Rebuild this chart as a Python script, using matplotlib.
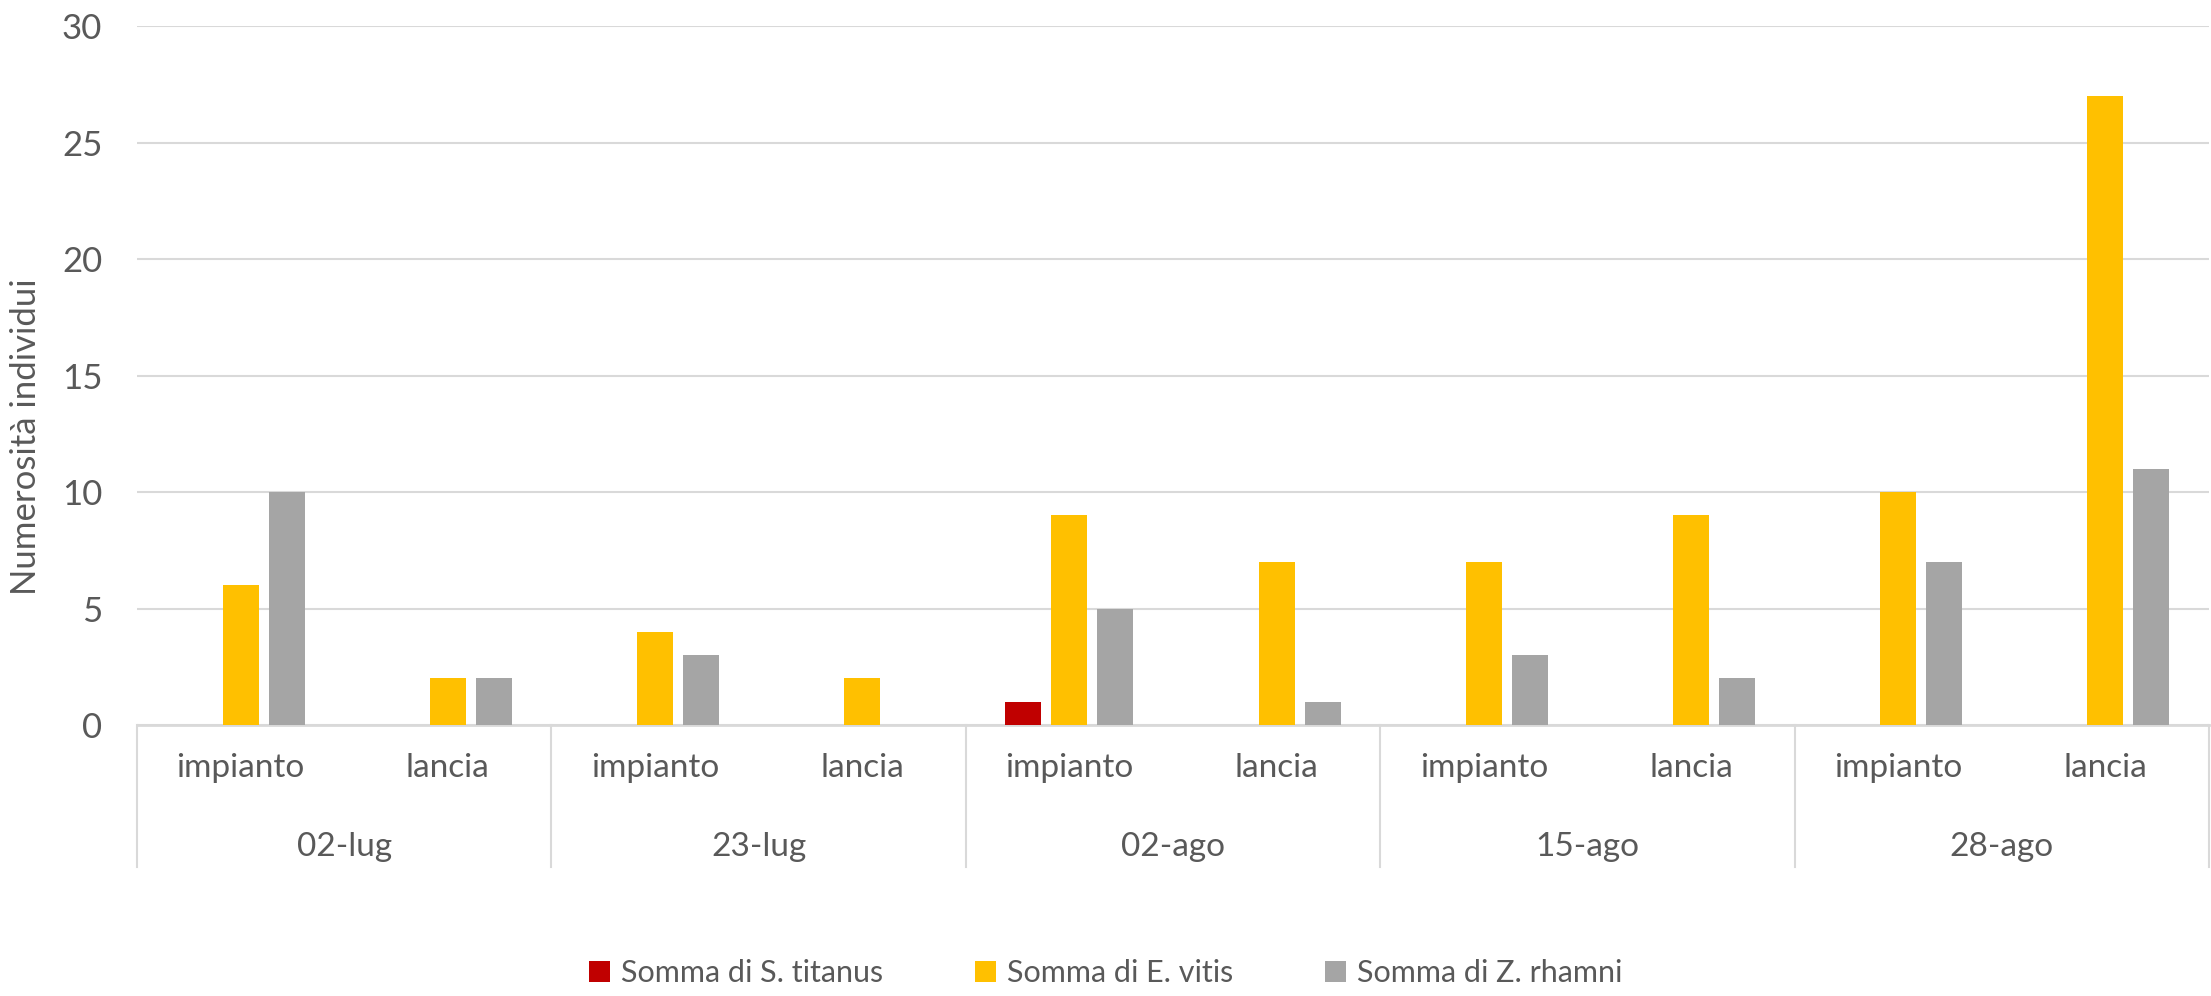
import numpy as np
import matplotlib
matplotlib.use("Agg")
import matplotlib.pyplot as plt
import matplotlib.transforms as mtransforms

plt.rcParams["font.family"] = ["Lato", "DejaVu Sans"]

# data
dates = ["02-lug", "23-lug", "02-ago", "15-ago", "28-ago"]
methods = ["impianto", "lancia"]
series_names = [
    "Somma di S. titanus",
    "Somma di E. vitis",
    "Somma di Z. rhamni",
]
s_titanus = [0, 0, 0, 0, 1, 0, 0, 0, 0, 0]
e_vitis = [6, 2, 4, 2, 9, 7, 7, 9, 10, 27]
z_rhamni = [10, 2, 3, 0, 5, 1, 3, 2, 7, 11]
colors = ["#C00000", "#FFC000", "#A5A5A5"]

text_color = "#595959"
grid_color = "#D9D9D9"

W, H = 2211, 996
fig = plt.figure(figsize=(W / 100, H / 100), dpi=100)

left, right = 137 / W, 2209 / W
bottom, top = 1 - 725 / H, 1 - 26 / H
ax = fig.add_axes([left, bottom, right - left, top - bottom])

n_cat = len(dates) * len(methods)
x = np.arange(n_cat)
bar_w = 0.173
step = 0.222

for i, (vals, name, c) in enumerate(
    zip([s_titanus, e_vitis, z_rhamni], series_names, colors)
):
    ax.bar(
        x + (i - 1) * step,
        vals,
        width=bar_w,
        color=c,
        label=name,
        zorder=3
    )

ax.set_xlim(-0.5, n_cat - 0.5)
ax.set_ylim(0, 30)
ax.set_yticks(range(0, 31, 5))
ax.grid(axis="y", color=grid_color, linewidth=1.5, zorder=0)

for s in ["top", "right", "left"]:
    ax.spines[s].set_visible(False)
ax.spines["bottom"].set_color(grid_color)
ax.spines["bottom"].set_linewidth(2)

ax.tick_params(axis="y", length=0, labelsize=25, colors=text_color, pad=25)
ax.tick_params(axis="x", length=0, labelsize=24, colors=text_color, pad=20)
ax.set_xticks(x)
ax.set_xticklabels(methods * len(dates))

ax.set_ylabel("Numerosità individui", fontsize=25, color=text_color)
ax.yaxis.set_label_coords(-0.0458, 0.413)

# second level of the category axis
trans = mtransforms.blended_transform_factory(ax.transData, ax.transAxes)
sep_bottom = -(867 - 725) / (725 - 26)
for k in range(len(dates) + 1):
    xb = k * len(methods) - 0.5
    ax.plot([xb, xb], [0, sep_bottom], transform=trans,
            color=grid_color, linewidth=1.5, clip_on=False)

date_y = -(847 - 725) / (725 - 26)
for k, d in enumerate(dates):
    ax.text(k * len(methods) + 0.5, date_y, d, transform=trans,
            ha="center", va="center", fontsize=24, color=text_color)

fig.legend(
    loc="center",
    bbox_to_anchor=(0.5, 1 - 973 / H),
    ncol=3,
    frameon=False,
    fontsize=22,
    handlelength=0.7,
    handleheight=0.7,
    handletextpad=0.35,
    columnspacing=3.0,
    labelcolor=text_color
)

fig.savefig("out.png", dpi=100)
